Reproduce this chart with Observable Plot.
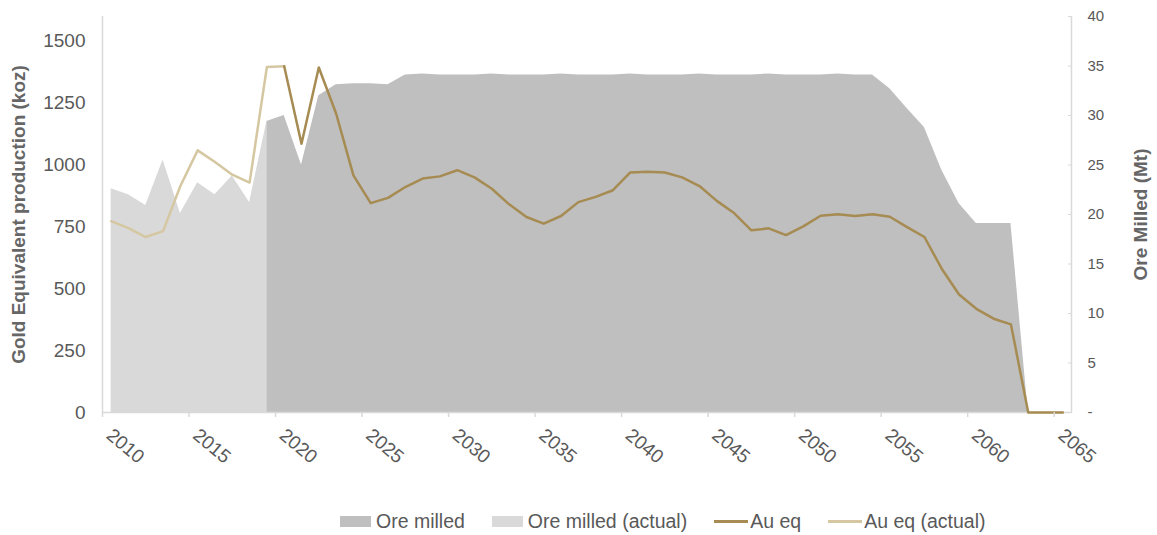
<!DOCTYPE html>
<html>
<head>
<meta charset="utf-8">
<script src="https://cdn.jsdelivr.net/npm/d3@7"></script>
<script src="https://cdn.jsdelivr.net/npm/@observablehq/plot@0.6"></script>
<style>
  body { margin: 0; background: #fff; font-family: "Liberation Sans", Arial, sans-serif; }
  #wrap { position: relative; width: 1157px; height: 535px; overflow: hidden; }
  #legend { position: absolute; left: 340px; top: 510px; display: flex; align-items: center; font-size: 19.5px; color: #595959; white-space: nowrap; }
  .item { display: flex; align-items: center; margin-right: 27px; }
  .sw { width: 31px; height: 11px; margin-right: 5px; }
  .ln { width: 34px; height: 3px; margin-right: 2px; }
</style>
</head>
<body>
<div id="wrap">
  <div id="chart"></div>
  <div id="legend"></div>
</div>
<script>
// ---- Data ----
const actualYears = [2010, 2011, 2012, 2013, 2014, 2015, 2016, 2017, 2018, 2019];
const oreMilledActualMt = [22.6, 22.0, 20.9, 25.5, 20.1, 23.2, 22.0, 23.9, 21.2, 29.4];

const planYears = [2019, 2020, 2021, 2022, 2023, 2024, 2025, 2026, 2027, 2028, 2029, 2030,
  2031, 2032, 2033, 2034, 2035, 2036, 2037, 2038, 2039, 2040, 2041, 2042, 2043, 2044, 2045,
  2046, 2047, 2048, 2049, 2050, 2051, 2052, 2053, 2054, 2055, 2056, 2057, 2058, 2059, 2060,
  2061, 2062, 2063];
const oreMilledMt = [29.4, 30.0, 25.0, 32.0, 33.1, 33.2, 33.2, 33.1, 34.1, 34.2, 34.1, 34.1,
  34.1, 34.2, 34.1, 34.1, 34.1, 34.2, 34.1, 34.1, 34.1, 34.2, 34.1, 34.1, 34.1, 34.2, 34.1,
  34.1, 34.1, 34.2, 34.1, 34.1, 34.1, 34.2, 34.1, 34.1, 32.7, 30.7, 28.8, 24.5, 21.1, 19.1,
  19.1, 19.1, 0];

const auActualYears = [2010, 2011, 2012, 2013, 2014, 2015, 2016, 2017, 2018, 2019, 2020];
const auEqActualKoz = [773, 745, 709, 733, 915, 1059, 1012, 961, 929, 1396, 1399];

const auYears = [2020, 2021, 2022, 2023, 2024, 2025, 2026, 2027, 2028, 2029, 2030, 2031,
  2032, 2033, 2034, 2035, 2036, 2037, 2038, 2039, 2040, 2041, 2042, 2043, 2044, 2045, 2046,
  2047, 2048, 2049, 2050, 2051, 2052, 2053, 2054, 2055, 2056, 2057, 2058, 2059, 2060, 2061,
  2062, 2063, 2064, 2065];
const auEqKoz = [1399, 1086, 1394, 1208, 958, 846, 867, 911, 945, 954, 979, 950,
  904, 841, 790, 763, 794, 850, 871, 898, 970, 973, 970, 950, 915, 855, 806,
  736, 744, 717, 752, 795, 801, 794, 801, 791, 749, 709, 581, 477, 419, 379,
  356, 0, 0, 0];

const xLabelYears = [2010, 2015, 2020, 2025, 2030, 2035, 2040, 2045, 2050, 2055, 2060, 2065];
const leftTicks = [0, 250, 500, 750, 1000, 1250, 1500];
const rightTicksMt = [0, 5, 10, 15, 20, 25, 30, 35, 40];

const leftMax = 1600;   // koz
const rightMax = 40;    // Mt
const kozPerMt = leftMax / rightMax;

const colors = {
  ore: "#bfbfbf",
  oreActual: "#d9d9d9",
  au: "#a68b52",
  auActual: "#d5c7a1",
  axis: "#d9d9d9",
  text: "#595959",
  title: "#666666"
};

// ---- Tables ----
const oreActual = actualYears.map((year, i) => ({year, mt: oreMilledActualMt[i]}));
const ore = planYears.map((year, i) => ({year, mt: oreMilledMt[i]}));
const auActual = auActualYears.map((year, i) => ({year, koz: auEqActualKoz[i]}));
const au = auYears.map((year, i) => ({year, koz: auEqKoz[i]}));
const firstYear = xLabelYears[0], lastYear = xLabelYears[xLabelYears.length - 1];
const tickBounds = xLabelYears.map(y => y - 0.5);

const chart = Plot.plot({
  width: 1157,
  height: 495,
  marginLeft: 102,
  marginRight: 86,
  marginTop: 16,
  marginBottom: 83,
  style: {fontFamily: "'Liberation Sans', Arial, sans-serif", fontSize: "19px", color: colors.text, background: "#fff"},
  x: {domain: [firstYear - 0.5, lastYear + 0.5]},
  y: {domain: [0, leftMax]},
  marks: [
    Plot.areaY(oreActual, {x: "year", y: d => d.mt * kozPerMt, fill: colors.oreActual}),
    Plot.areaY(ore, {x: "year", y: d => d.mt * kozPerMt, fill: colors.ore}),
    Plot.ruleY([0], {stroke: colors.axis, strokeWidth: 1.5}),
    Plot.ruleX([firstYear - 0.5, lastYear + 0.5], {stroke: colors.axis, strokeWidth: 1.5}),
    Plot.lineY(auActual, {x: "year", y: "koz", stroke: colors.auActual, strokeWidth: 2.5}),
    Plot.lineY(au, {x: "year", y: "koz", stroke: colors.au, strokeWidth: 2.5}),
    Plot.axisX({ticks: tickBounds, tickSize: 5, tickFormat: () => "", stroke: colors.axis,
      strokeWidth: 1.5, label: null}),
    Plot.text(xLabelYears, {x: d => d, text: d => String(d), frameAnchor: "bottom", rotate: 40,
      textAnchor: "start", lineAnchor: "middle", dy: 20, dx: -2, fill: colors.text, fontSize: 19}),
    Plot.axisY({anchor: "left", ticks: leftTicks, tickSize: 0, tickPadding: 17, label: null,
      tickFormat: d => String(d), fontSize: 19, fill: colors.text}),
    Plot.axisY({anchor: "right", ticks: rightTicksMt.map(v => v * kozPerMt), tickSize: 4, dx: -4,
      tickFormat: () => "", stroke: colors.axis, label: null}),
    Plot.axisY({anchor: "right", ticks: rightTicksMt.map(v => v * kozPerMt), tickSize: 0, tickPadding: 16,
      tickFormat: d => d === 0 ? "-" : String(d / kozPerMt), label: null, fontSize: 15, fill: colors.text}),
    Plot.text(["Gold Equivalent production (koz)"], {frameAnchor: "left", dx: -84, rotate: -90,
      textAnchor: "middle", lineAnchor: "middle", fontWeight: "bold", fontSize: 19, fill: colors.title}),
    Plot.text(["Ore Milled (Mt)"], {frameAnchor: "right", dx: 69, rotate: -90,
      textAnchor: "middle", lineAnchor: "middle", fontWeight: "bold", fontSize: 19, fill: colors.title})
  ]
});
document.getElementById("chart").appendChild(chart);

// ---- Legend ----
const legendItems = [
  {label: "Ore milled", type: "sw", color: colors.ore},
  {label: "Ore milled (actual)", type: "sw", color: colors.oreActual},
  {label: "Au eq", type: "ln", color: colors.au},
  {label: "Au eq (actual)", type: "ln", color: colors.auActual}
];
const legend = d3.select("#legend");
legendItems.forEach(it => {
  const item = legend.append("div").attr("class", "item");
  item.append("div").attr("class", it.type).style("background", it.color);
  item.append("span").text(it.label);
});
</script>
</body>
</html>
